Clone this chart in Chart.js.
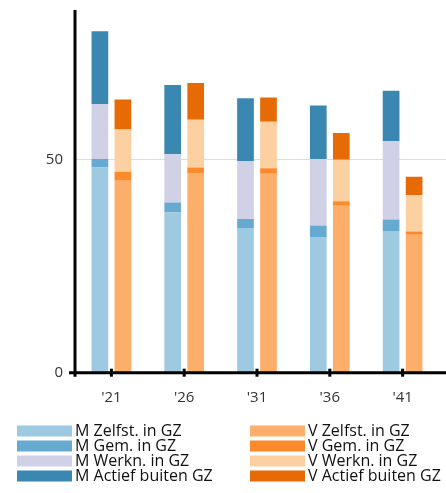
<!DOCTYPE html>
<html>
<head>
<meta charset="utf-8">
<script src="https://cdn.jsdelivr.net/npm/chart.js@4/dist/chart.umd.min.js"></script>
<style>
  html, body { margin: 0; padding: 0; background: #fff; }
  #wrap { width: 446px; height: 493px; }
</style>
</head>
<body>
<div id="wrap"><canvas id="chart" width="446" height="493"></canvas></div>
<script>
  const years = ["'21", "'26", "'31", "'36", "'41"];

  // mannen
  const mZelfst = [48.1, 37.6, 33.9, 31.8, 33.2];
  const mGem    = [2.0, 2.3, 2.1, 2.7, 2.7];
  const mWerkn  = [12.9, 11.3, 13.6, 15.6, 18.4];
  const mActief = [17.0, 16.2, 14.7, 12.5, 11.8];

  // vrouwen
  const vZelfst = [45.0, 46.7, 46.6, 39.1, 32.3];
  const vGem    = [2.1, 1.4, 1.3, 1.1, 0.8];
  const vWerkn  = [9.9, 11.2, 10.9, 9.7, 8.5];
  const vActief = [7.0, 8.6, 5.7, 6.3, 4.3];

  const yTicks = [0, 50];

  const FONT = '"Open Sans", "Noto Sans", sans-serif';

  function ds(label, data, color, stack) {
    return {
      label, data, stack,
      backgroundColor: color,
      borderWidth: 0,
      categoryPercentage: 0.632,
      barPercentage: 0.726
    };
  }

  // assen, rasterlijn en legenda zelf tekenen
  const decor = {
    id: 'decor',
    beforeDatasetsDraw(chart) {
      const { ctx, chartArea, scales: { y } } = chart;
      ctx.save();
      ctx.strokeStyle = '#dddddd';
      ctx.lineWidth = 1;
      yTicks.forEach(t => {
        if (t === 0) return;
        const py = Math.round(y.getPixelForValue(t)) + 0.5;
        ctx.beginPath();
        ctx.moveTo(chartArea.left, py);
        ctx.lineTo(chart.width, py);
        ctx.stroke();
      });
      ctx.restore();
    },
    afterDatasetsDraw(chart) {
      const { ctx, chartArea, scales: { x, y } } = chart;
      const y0 = y.getPixelForValue(0);
      ctx.save();
      ctx.strokeStyle = '#000';
      ctx.lineWidth = 3;
      ctx.beginPath();
      ctx.moveTo(chartArea.left, chartArea.top);
      ctx.lineTo(chartArea.left, y0 + 4);
      ctx.moveTo(chartArea.left - 6, y0);
      ctx.lineTo(chart.width, y0);
      ctx.stroke();
      years.forEach((_, i) => {
        const px = x.getPixelForValue(i);
        ctx.beginPath();
        ctx.moveTo(px, y0 - 4);
        ctx.lineTo(px, y0 + 4);
        ctx.stroke();
      });

      // legenda, twee kolommen
      ctx.font = '16px ' + FONT;
      ctx.textBaseline = 'middle';
      chart.data.datasets.forEach((d, i) => {
        const col = Math.floor(i / 4);
        const row = i % 4;
        const bx = col === 0 ? 17 : 250;
        const cy = 431 + row * 15;
        ctx.fillStyle = d.backgroundColor;
        ctx.fillRect(bx, cy - 5.5, 55, 11);
        ctx.fillStyle = '#111';
        ctx.fillText(d.label, bx + 58, cy + 0.5);
      });
      ctx.restore();
    }
  };

  new Chart(document.getElementById('chart'), {
    type: 'bar',
    data: {
      labels: years,
      datasets: [
        ds('M Zelfst. in GZ', mZelfst, '#9ecae1', 'M'),
        ds('M Gem. in GZ', mGem, '#66aad2', 'M'),
        ds('M Werkn. in GZ', mWerkn, '#d0d1e6', 'M'),
        ds('M Actief buiten GZ', mActief, '#3a87b1', 'M'),
        ds('V Zelfst. in GZ', vZelfst, '#fdae6b', 'V'),
        ds('V Gem. in GZ', vGem, '#fd8a2a', 'V'),
        ds('V Werkn. in GZ', vWerkn, '#fdd0a2', 'V'),
        ds('V Actief buiten GZ', vActief, '#e66a05', 'V')
      ]
    },
    options: {
      responsive: false,
      animation: false,
      layout: { padding: { top: 10, right: 7, left: 0, bottom: 0 } },
      plugins: {
        legend: { display: false },
        tooltip: { enabled: false }
      },
      scales: {
        x: {
          stacked: true,
          grid: { display: false, drawTicks: false },
          border: { display: false },
          ticks: { color: '#333', font: { family: FONT, size: 15 }, padding: 16 },
          afterFit(s) { s.height = 120.3; }
        },
        y: {
          stacked: true,
          min: 0,
          max: 85,
          afterBuildTicks(s) { s.ticks = yTicks.map(v => ({ value: v })); },
          grid: { display: false, drawTicks: false },
          border: { display: false },
          ticks: { color: '#333', font: { family: FONT, size: 15 }, padding: 12 },
          afterFit(s) { s.width = 75; s.paddingTop = 0; s.paddingBottom = 0; }
        }
      }
    },
    plugins: [decor]
  });
</script>
</body>
</html>
